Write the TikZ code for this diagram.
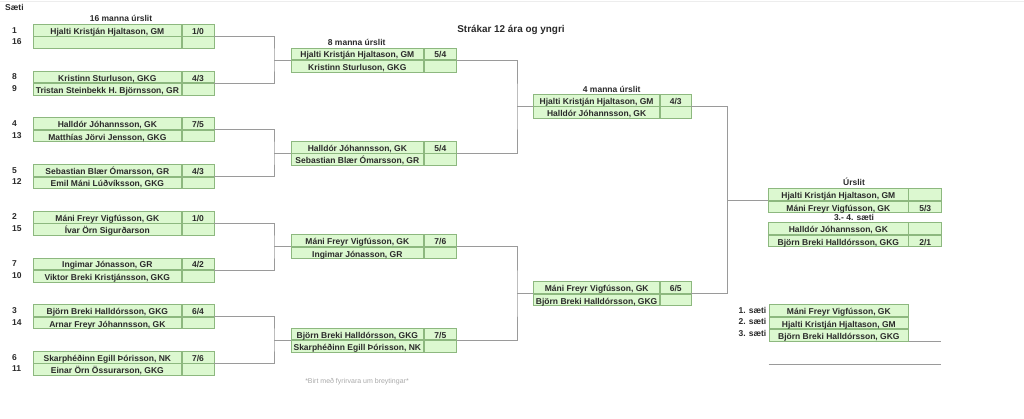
\documentclass[tikz,border=0pt]{standalone}
\usepackage{fontspec}
\setmainfont{Liberation Sans}
\definecolor{cellfill}{HTML}{DCF8D0}
\definecolor{cellline}{HTML}{8DB87F}
\definecolor{connline}{HTML}{9A9A9A}
\definecolor{txt}{HTML}{2A2A2A}
\definecolor{faint}{HTML}{A8A8A8}
\tikzset{
  cell/.style={draw=cellline, fill=cellfill, line width=0.7pt, minimum height=11.7pt,
    text height=9.6pt, text depth=1.2pt,
    inner sep=0pt, text=txt, font=\bfseries\fontsize{8.5}{9}\selectfont, anchor=north west},
  conn/.style={draw=connline, line width=0.8pt},
  lbl/.style={inner sep=0pt, text=txt, text height=7pt, text depth=0.9pt, font=\bfseries\fontsize{8.5}{9}\selectfont},
  seed/.style={lbl, anchor=west},
}
\newcommand\pbox[9]{%
  \node[cell, minimum width=#4] (#1-n1) at (#2,#3) {#6};
  \node[cell, minimum width=#5] (#1-s1) at (#1-n1.north east) {#7};
  \node[cell, minimum width=#4] (#1-n2) at (#1-n1.south west) {#8};
  \node[cell, minimum width=#5] (#1-s2) at (#1-n2.north east) {#9};
}
\begin{document}
\begin{tikzpicture}[x=1pt,y=-1pt]
\useasboundingbox (0,0) rectangle (1024,419);
\coordinate (tl) at (0,1.2);
\coordinate (tr) at (1024,1.2);
\draw[draw=black!7, line width=1pt] (tl) -- (tr);

% headings
\node[lbl, anchor=west] (saeti) at (5,7.5) {Sæti};
\node[lbl] (h16) at (121,18) {16 manna úrslit};
\node[lbl] (h8) at (356.7,42) {8 manna úrslit};
\node[lbl] (h4) at (611.7,89) {4 manna úrslit};
\node[lbl] (hf) at (854,182.5) {Úrslit};
\node[lbl] (h3) at (854,217.3) {3.- 4. sæti};
\node[inner sep=0pt, text=txt, text height=8.2pt, text depth=1pt, font=\bfseries\fontsize{9.9}{11}\selectfont] (title) at (511,29.3) {Strákar 12 ára og yngri};
\node[inner sep=0pt, text=faint, font=\fontsize{7}{8}\selectfont] (note) at (357,381.7) {*Birt með fyrirvara um breytingar*};

% round of 16
\pbox{a1}{33}{24}{148pt}{32pt}{Hjalti Kristján Hjaltason, GM}{1/0}{}{}
\pbox{a2}{33}{70.7}{148pt}{32pt}{Kristinn Sturluson, GKG}{4/3}{Tristan Steinbekk H. Björnsson, GR}{}
\pbox{a3}{33}{117.4}{148pt}{32pt}{Halldór Jóhannsson, GK}{7/5}{Matthías Jörvi Jensson, GKG}{}
\pbox{a4}{33}{164.2}{148pt}{32pt}{Sebastian Blær Ómarsson, GR}{4/3}{Emil Máni Lúðvíksson, GKG}{}
\pbox{a5}{33}{210.9}{148pt}{32pt}{Máni Freyr Vigfússon, GK}{1/0}{Ívar Örn Sigurðarson}{}
\pbox{a6}{33}{257.6}{148pt}{32pt}{Ingimar Jónasson, GR}{4/2}{Viktor Breki Kristjánsson, GKG}{}
\pbox{a7}{33}{304.3}{148pt}{32pt}{Björn Breki Halldórsson, GKG}{6/4}{Arnar Freyr Jóhannsson, GK}{}
\pbox{a8}{33}{351}{148pt}{32pt}{Skarphéðinn Egill Þórisson, NK}{7/6}{Einar Örn Össurarson, GKG}{}

% seeds
\foreach \i/\s/\t/\y in {1/1/16/24, 2/8/9/70.7, 3/4/13/117.4, 4/5/12/164.2, 5/2/15/210.9, 6/7/10/257.6, 7/3/14/304.3, 8/6/11/351}{
  \node[seed] (sa\i) at (12,\y+6) {\s};
  \node[seed] (sb\i) at (12,\y+17.7) {\t};
}

% quarter finals
\pbox{b1}{290.7}{47.6}{132.6pt}{32pt}{Hjalti Kristján Hjaltason, GM}{5/4}{Kristinn Sturluson, GKG}{}
\pbox{b2}{290.7}{141}{132.6pt}{32pt}{Halldór Jóhannsson, GK}{5/4}{Sebastian Blær Ómarsson, GR}{}
\pbox{b3}{290.7}{234.4}{132.6pt}{32pt}{Máni Freyr Vigfússon, GK}{7/6}{Ingimar Jónasson, GR}{}
\pbox{b4}{290.7}{327.7}{132.6pt}{32pt}{Björn Breki Halldórsson, GKG}{7/5}{Skarphéðinn Egill Þórisson, NK}{}

% semi finals
\pbox{c1}{533.3}{94}{126pt}{30.7pt}{Hjalti Kristján Hjaltason, GM}{4/3}{Halldór Jóhannsson, GK}{}
\pbox{c2}{533.3}{281.2}{126pt}{30.7pt}{Máni Freyr Vigfússon, GK}{6/5}{Björn Breki Halldórsson, GKG}{}

% final and 3rd place
\pbox{d1}{768.3}{188.3}{139.4pt}{33pt}{Hjalti Kristján Hjaltason, GM}{}{Máni Freyr Vigfússon, GK}{5/3}
\pbox{d2}{768.3}{222.3}{139.4pt}{33pt}{Halldór Jóhannsson, GK}{}{Björn Breki Halldórsson, GKG}{2/1}

% standings
\node[cell, minimum width=139.6pt] (st1) at (768.7,304.3) {Máni Freyr Vigfússon, GK};
\node[cell, minimum width=139.6pt] (st2) at (st1.south west) {Hjalti Kristján Hjaltason, GM};
\node[cell, minimum width=139.6pt] (st3) at (st2.south west) {Björn Breki Halldórsson, GKG};
\node[lbl, anchor=east] (p1) at (766.5,310.2) {1. sæti};
\node[lbl, anchor=east] (p2) at (766.5,321.9) {2. sæti};
\node[lbl, anchor=east] (p3) at (766.5,333.6) {3. sæti};
\path (st3.south east) ++(32,0) coordinate (le1);
\path (st3.south west) ++(0,23) coordinate (ls2);
\path (ls2) ++(171.8,0) coordinate (le2);
\draw[conn] (st3.south east) -- (le1);
\draw[conn] (ls2) -- (le2);

% round 1 -> 2
\foreach \p/\q/\r in {a1/a2/b1, a3/a4/b2, a5/a6/b3, a7/a8/b4}{
  \path (\r-n1.south west) ++(-16.7,0) coordinate (j\r);
  \draw[conn] (\p-s1.south east) -| (j\r) |- (\q-s1.south east);
  \draw[conn] (j\r) -- (\r-n1.south west);
}
% round 2 -> 3
\foreach \p/\q/\r in {b1/b2/c1, b3/b4/c2}{
  \path (\r-n1.south west) ++(-16.3,0) coordinate (j\r);
  \draw[conn] (\p-s1.south east) -| (j\r) |- (\q-s1.south east);
  \draw[conn] (j\r) -- (\r-n1.south west);
}
% round 3 -> final
\path (d1-n1.south west) ++(-40.8,0) coordinate (jd1);
\draw[conn] (c1-s1.south east) -| (jd1) |- (c2-s1.south east);
\draw[conn] (jd1) -- (d1-n1.south west);
\end{tikzpicture}
\end{document}
